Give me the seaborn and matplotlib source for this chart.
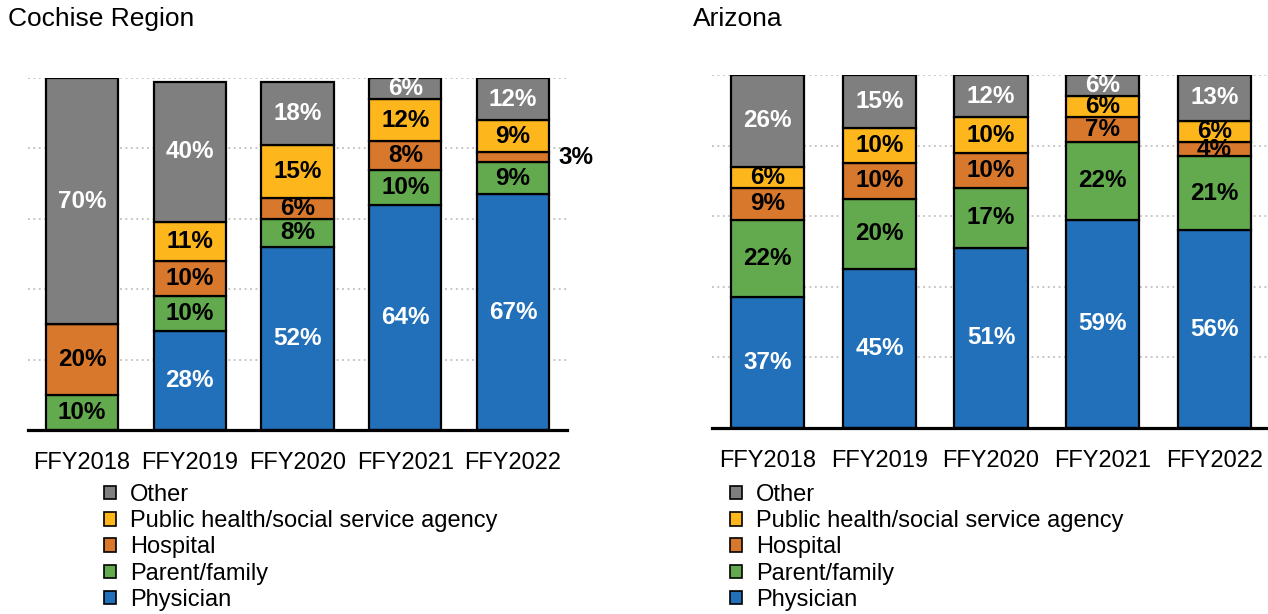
import numpy as np
import pandas as pd
import matplotlib
matplotlib.use("Agg")
import matplotlib.pyplot as plt
from matplotlib.patches import Patch
import seaborn as sns

# Referral sources, shares in percent (stack order: bottom to top)
years = ["FFY2018", "FFY2019", "FFY2020", "FFY2021", "FFY2022"]
sources = ["Physician", "Parent/family", "Hospital",
           "Public health/social service agency", "Other"]

cochise_physician = [0, 28, 52, 64, 67]
cochise_parent = [10, 10, 8, 10, 9]
cochise_hospital = [20, 10, 6, 8, 3]
cochise_public = [0, 11, 15, 12, 9]
cochise_other = [70, 40, 18, 6, 12]

arizona_physician = [37, 45, 51, 59, 56]
arizona_parent = [22, 20, 17, 22, 21]
arizona_hospital = [9, 10, 10, 7, 4]
arizona_public = [6, 10, 10, 6, 6]
arizona_other = [26, 15, 12, 6, 13]

colors = {
    "Physician": "#2170B9",
    "Parent/family": "#63AA4F",
    "Hospital": "#D8782D",
    "Public health/social service agency": "#FDB71C",
    "Other": "#7F7F7F",
}
label_colors = {
    "Physician": "white",
    "Parent/family": "black",
    "Hospital": "black",
    "Public health/social service agency": "black",
    "Other": "white",
}

sns.set_style("white")
plt.rcParams["font.family"] = ["Liberation Sans", "DejaVu Sans"]
plt.rcParams["text.color"] = "black"
plt.rcParams["xtick.color"] = "black"
plt.rcParams["xtick.labelcolor"] = "black"

fig = plt.figure(figsize=(12.68, 6.14), dpi=100)
W, H = 1268, 614


def axes_px(left, top, right, bottom):
    return fig.add_axes([left / W, 1 - bottom / H, (right - left) / W, (bottom - top) / H])


def draw_panel(ax, table, width, outside=()):
    df = pd.DataFrame(table, index=years)
    base = np.zeros(len(years))
    for src in sources:
        vals = df[src].to_numpy(dtype=float)
        sns.barplot(x=years, y=vals, order=years, bottom=base, color=colors[src],
                    saturation=1, width=width, edgecolor="black", linewidth=1.6,
                    errorbar=None, ax=ax)
        cont = ax.containers[-1]
        labels = []
        for i, v in enumerate(vals):
            if v <= 0 or (src, i) in outside:
                labels.append("")
            else:
                labels.append(f"{v:.0f}%")
        ax.bar_label(cont, labels=labels, label_type="center", fontsize=17.5,
                     fontweight="bold", color=label_colors[src])
        for i, v in enumerate(vals):
            if (src, i) in outside:
                p = cont.patches[i]
                ax.annotate(f"{v:.0f}%",
                            xy=(p.get_x() + p.get_width(), p.get_y() + p.get_height() / 2),
                            xytext=(6.5, 0), textcoords="offset points",
                            ha="left", va="center", fontsize=17.5, fontweight="bold",
                            color="black", annotation_clip=False)
        base = base + vals

    ax.set_ylim(0, 100)
    ax.set_yticks([0, 20, 40, 60, 80, 100])
    ax.tick_params(axis="y", left=False, labelleft=False)
    ax.tick_params(axis="x", length=0, pad=16, labelsize=17, colors="black")
    ax.grid(axis="y", linestyle=(0, (1, 2)), color="#BFBFBF", linewidth=1.3)
    ax.grid(axis="x", visible=False)
    ax.set_axisbelow(True)
    for s in ("top", "right", "left"):
        ax.spines[s].set_visible(False)
    ax.spines["bottom"].set_linewidth(2.3)
    ax.spines["bottom"].set_color("black")
    ax.set_xlabel("")
    ax.set_ylabel("")


cochise = {
    "Physician": cochise_physician,
    "Parent/family": cochise_parent,
    "Hospital": cochise_hospital,
    "Public health/social service agency": cochise_public,
    "Other": cochise_other,
}
arizona = {
    "Physician": arizona_physician,
    "Parent/family": arizona_parent,
    "Hospital": arizona_hospital,
    "Public health/social service agency": arizona_public,
    "Other": arizona_other,
}

ax1 = axes_px(28, 78, 567, 430)
draw_panel(ax1, cochise, 0.67, outside={("Hospital", 4)})

ax2 = axes_px(712, 75, 1270, 428)
draw_panel(ax2, arizona, 0.655)

fig.text(8 / W, 1 - 19 / H, "Cochise Region", fontsize=19, ha="left", va="center")
fig.text(693 / W, 1 - 19 / H, "Arizona", fontsize=19, ha="left", va="center")

handles = [Patch(facecolor=colors[s], edgecolor="black", linewidth=1.2) for s in reversed(sources)]
names = list(reversed(sources))
for x0 in (104, 730):
    fig.legend(handles, names, loc="upper left", bbox_to_anchor=(x0 / W, 1 - 484 / H),
               frameon=False, fontsize=17, borderpad=0, borderaxespad=0,
               handlelength=0.5, handleheight=0.5, handletextpad=0.6,
               labelspacing=0.18)

fig.savefig("out.png", dpi=100)
